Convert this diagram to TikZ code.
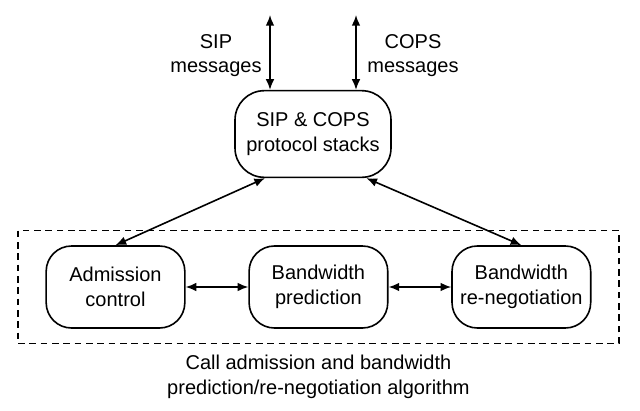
\documentclass[tikz,border=0pt]{standalone}
\usepackage{fontspec}
\setmainfont{Liberation Sans}
\usetikzlibrary{arrows.meta,positioning,fit}

\begin{document}
\begin{tikzpicture}[x=0.75pt, y=-0.75pt, font=\fontsize{15}{18.6}\selectfont, node distance=47pt, line width=1.2pt, box/.style={draw, rounded corners=19pt, align=center, minimum width=104pt, minimum height=61.5pt}, link/.style={{Latex[length=8pt,width=6.5pt]}-{Latex[length=8pt,width=6.5pt]}}]
\useasboundingbox (0,0) rectangle (640,411);
\node[box, minimum width=117pt, minimum height=65pt, rounded corners=22pt] (stack) at (313,134) {SIP \& COPS\\protocol stacks};
\node[box] (adm) at (115.5,287) {Admission\\control};
\node[box, right=of adm] (pred) {Bandwidth\\prediction};
\node[box, right=of pred] (reneg) {Bandwidth\\re-negotiation};
\node[draw, dashed, dash pattern=on 5pt off 3.5pt, line width=1.1pt, fit=(adm)(reneg), inner xsep=20.5pt, inner ysep=11pt] (algo) {};
\node[align=center, below=4pt of algo] (caption) {Call admission and bandwidth\\prediction/re-negotiation algorithm};
\coordinate (sipend) at (270,15);
\coordinate (copsend) at (356,15);
\node[align=center] (siplbl) at (216,55.5) {SIP\\messages};
\node[align=center] (copslbl) at (413,55.5) {COPS\\messages};
\draw[link] (stack.north -| sipend)--(sipend); \draw[link] (stack.north -| copsend)--(copsend);
\draw[link] ([xshift=-36pt]stack.south)--(adm.north); \draw[link] ([xshift=40pt]stack.south)--(reneg.north);
\draw[link] (adm)--(pred); \draw[link] (pred)--(reneg);
\end{tikzpicture}
\end{document}
